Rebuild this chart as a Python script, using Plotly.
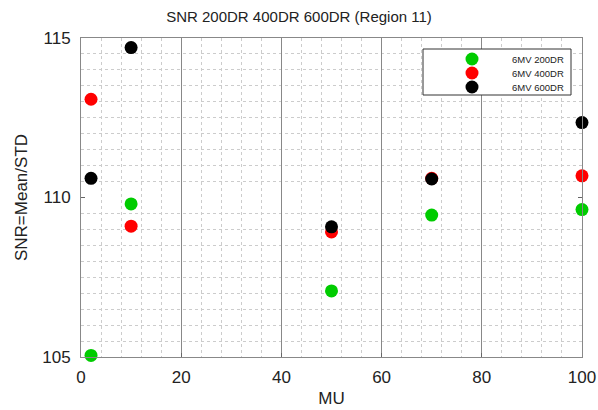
import plotly.graph_objects as go

mu = [2, 10, 50, 70, 100]
snr_200 = [105.05, 109.8, 107.07, 109.45, 109.62]
snr_400 = [113.08, 109.1, 108.92, 110.6, 110.68]
snr_600 = [110.6, 114.7, 109.08, 110.58, 112.35]
series_names = ["6MV 200DR", "6MV 400DR", "6MV 600DR"]
colors = ["#00cc00", "#ff0000", "#000000"]

fig = go.Figure()
for name, vals, c in zip(series_names, [snr_200, snr_400, snr_600], colors):
    fig.add_trace(go.Scatter(x=mu, y=vals, mode="markers", name=name,
                             marker=dict(color=c, size=13, line=dict(width=0)),
                             cliponaxis=False, showlegend=False))

# compact legend (box + symbols + labels) in paper coordinates
L = 81; PW = 501; T = 38; PH = 319
def px(x): return (x - L) / PW
def py(y): return (T + PH - y) / PH

shapes = [dict(type="rect", xref="paper", yref="paper",
               x0=px(423), x1=px(571), y0=py(95), y1=py(49),
               line=dict(color="#333333", width=1), fillcolor="white", layer="above")]
annotations = []
row_y = [59, 73, 87]
for name, c, ry in zip(series_names, colors, row_y):
    shapes.append(dict(type="circle", xref="paper", yref="paper",
                       xsizemode="pixel", ysizemode="pixel",
                       xanchor=px(472), yanchor=py(ry),
                       x0=-6.5, x1=6.5, y0=-6.5, y1=6.5,
                       fillcolor=c, line=dict(width=0), layer="above"))
    annotations.append(dict(text=name, xref="paper", yref="paper",
                            x=px(566), y=py(ry), xanchor="right", yanchor="middle",
                            showarrow=False, font=dict(size=9.5, color="#222222")))

font = "Liberation Sans, Arial, sans-serif"
fig.update_layout(
    width=598, height=410,
    margin=dict(l=81, r=16, t=38, b=53),
    paper_bgcolor="white", plot_bgcolor="white",
    font=dict(family=font, size=14, color="#222222"),
    title=dict(text="SNR 200DR 400DR 600DR (Region 11)", x=0.5, xanchor="center",
               y=1 - 17 / 410, yanchor="middle", font=dict(size=15, color="#222222")),
    showlegend=False,
    shapes=shapes,
    annotations=annotations,
)
fig.update_xaxes(
    range=[0, 100], tick0=0, dtick=20, ticks="inside", ticklen=4, tickcolor="#666666",
    showline=True, linecolor="#888888", linewidth=1, mirror=True,
    showgrid=True, gridcolor="#888888", gridwidth=1,
    zeroline=False, automargin=False, ticklabelstandoff=5,
    minor=dict(dtick=4, tick0=0, showgrid=True, gridcolor="#cccccc", griddash="dot", gridwidth=1),
    title=dict(text="MU", font=dict(size=17), standoff=5),
    tickfont=dict(size=17),
)
fig.update_yaxes(
    range=[105, 115], tick0=105, dtick=5, ticks="inside", ticklen=4, tickcolor="#666666",
    showline=True, linecolor="#888888", linewidth=1, mirror="allticks",
    showgrid=False, zeroline=False, automargin=False, ticklabelstandoff=6,
    minor=dict(dtick=0.5, tick0=105, showgrid=True, gridcolor="#cccccc", griddash="dot", gridwidth=1),
    title=dict(text="SNR=Mean/STD", font=dict(size=17), standoff=10),
    tickfont=dict(size=17),
)
fig.write_html("out.html")
